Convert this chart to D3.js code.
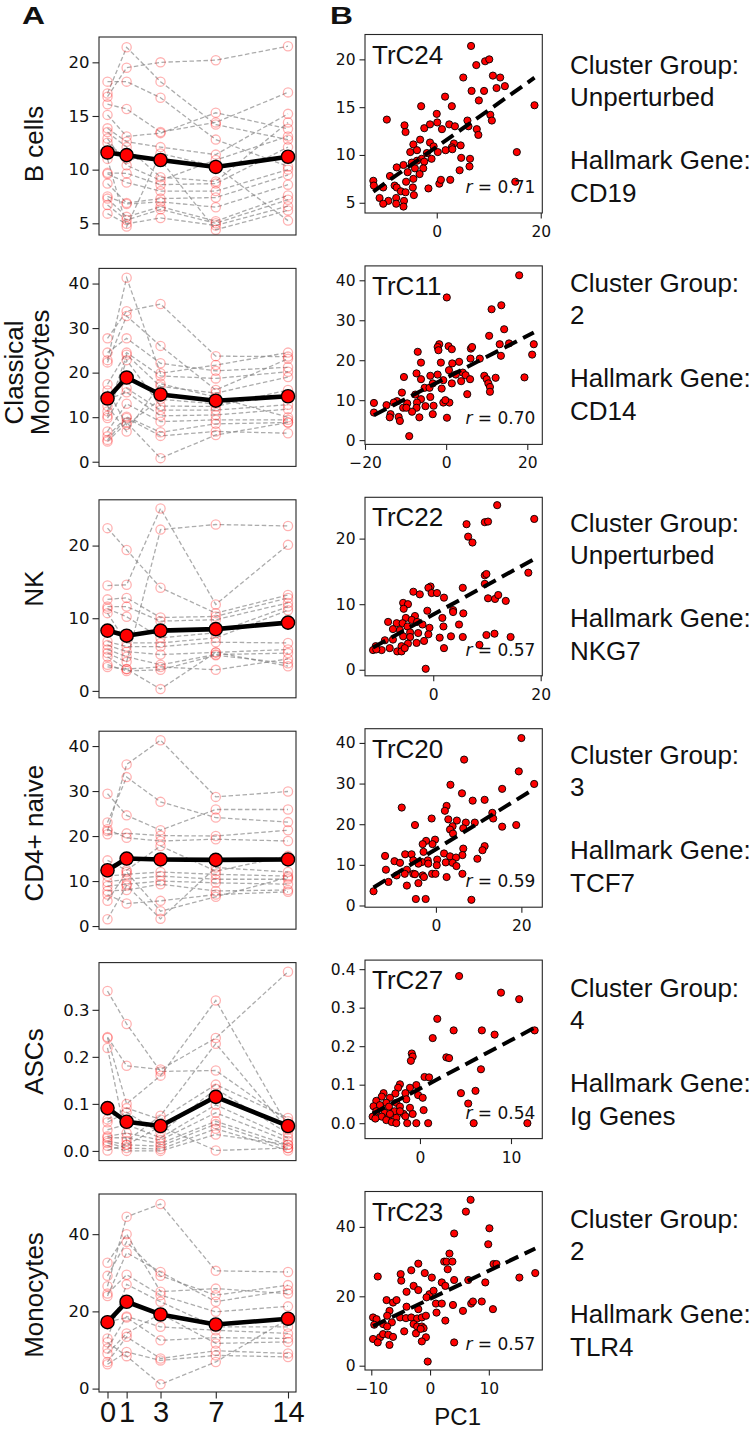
<!DOCTYPE html>
<html><head><meta charset="utf-8">
<script src="https://cdn.jsdelivr.net/npm/d3@7"></script>
<style>
body{margin:0;background:#fff}
svg{display:block}
text{fill:#111}
</style></head>
<body>
<svg id="fig" width="754" height="1432"></svg>
<script>
/* ---------- data ---------- */
const DAYS = [0, 1, 3, 7, 14];
const ROW_LABELS = [["B cells"], ["Classical", "Monocytes"], ["NK"], ["CD4+ naive"], ["ASCs"], ["Monocytes"]];
const CLUSTERS = ["TrC24", "TrC11", "TrC22", "TrC20", "TrC27", "TrC23"];
const R_VALUES = ["0.71", "0.70", "0.57", "0.59", "0.54", "0.57"];
const GROUPS = ["Unperturbed", "2", "Unperturbed", "3", "4", "2"];
const GENES = ["CD19", "CD14", "NKG7", "TCF7", "Ig Genes", "TLR4"];

// y ticks of the left (time course) panels and right (scatter) panels
const LEFT_TICKS = [[5, 10, 15, 20], [0, 10, 20, 30, 40], [0, 10, 20], [0, 10, 20, 30, 40], [0, 0.1, 0.2, 0.3], [0, 20, 40]];
const RIGHT_YTICKS = [[5, 10, 15, 20], [0, 10, 20, 30, 40], [0, 10, 20], [0, 10, 20, 30, 40], [0, 0.1, 0.2, 0.3, 0.4], [0, 20, 40]];
const RIGHT_XTICKS = [[0, 20], [-20, 0, 20], [0, 20], [0, 20], [0, 10], [-10, 0, 10]];
const LEFT_YDOM = [[3.91, 22.36], [-1.05, 43.4], [-0.95, 26.3], [-0.7, 43.3], [-0.0206, 0.4004], [-0.88, 50.4]];
const RIGHT_YDOM = [[3.93, 22.6], [-1.07, 43.6], [-0.92, 26.3], [-0.42, 43.5], [-0.04, 0.4235], [-1.24, 50.2]];
const RIGHT_XDOM = [[-13.8, 20.3], [-20.0, 23.7], [-12.7, 20.3], [-16.6, 24.9], [-6.04, 13.44], [-11.07, 19.1]];

// per-subject percentages at days 0,1,3,7,14
const B_CELLS = [
  [17.1, 21.4, 18.2, 14.2, 12.8], [16.8, 19.5, 20.0, 20.2, 21.5], [18.2, 18.2, 16.7, 12.8, 10.3],
  [16.1, 15.65, 13.5, 14.4, 17.2], [15.1, 13.1, 13.4, 15.3, 13.8], [13.85, 12.6, 12.1, 11.4, 15.2],
  [13.5, 12.1, 9.3, 8.9, 14.4], [12.9, 10.4, 9.0, 10.9, 13.1], [9.7, 9.65, 8.6, 8.7, 12.1],
  [9.6, 8.8, 8.0, 8.0, 10.0], [8.7, 6.9, 7.3, 7.4, 9.5], [7.5, 6.8, 7.0, 6.5, 8.6],
  [7.3, 5.6, 6.55, 5.2, 7.6], [6.7, 5.3, 6.3, 5.0, 7.2], [5.9, 4.95, 5.5, 4.8, 6.6],
  [12.5, 11.0, 10.9, 4.4, 6.2], [11.0, 4.7, 11.5, 10.3, 5.25]
];
const CLASSICAL_MONO = [
  [27.7, 33.8, 35.4, 23.7, 23.6], [22.8, 41.3, 19.85, 21.7, 24.5], [22.3, 32.7, 26.0, 16.1, 23.1],
  [24.5, 27.7, 22.1, 20.4, 21.2], [17.4, 24.5, 19.25, 18.7, 20.2], [11.3, 24.0, 16.9, 15.4, 19.0],
  [10.3, 22.8, 12.5, 12.4, 16.1], [9.8, 16.5, 11.6, 11.6, 12.8], [14.0, 15.6, 10.3, 10.5, 11.8],
  [6.8, 13.0, 9.0, 9.4, 9.4], [5.7, 10.1, 6.6, 8.5, 8.8], [4.9, 9.8, 5.8, 6.8, 6.4],
  [4.55, 8.8, 0.8, 6.0, 8.8], [16.0, 8.3, 14.0, 13.0, 14.6], [12.5, 6.8, 17.5, 14.5, 10.0]
];
const NK = [
  [22.4, 19.4, 14.2, 10.7, 13.2], [14.5, 14.6, 25.1, 11.9, 20.1], [5.2, 4.0, 22.2, 22.9, 22.7],
  [12.6, 12.8, 10.1, 10.25, 12.8], [11.6, 11.6, 9.6, 9.8, 12.1], [11.3, 10.2, 7.3, 8.0, 11.6],
  [10.7, 6.6, 6.6, 7.3, 11.1], [6.8, 6.1, 6.1, 6.7, 6.6], [6.3, 5.4, 5.0, 5.3, 5.7],
  [5.7, 4.7, 3.6, 5.0, 5.2], [4.7, 3.0, 3.3, 2.9, 4.4], [3.6, 2.75, 2.9, 4.9, 3.8],
  [3.3, 3.0, 0.25, 5.3, 3.4]
];
const CD4_NAIVE = [
  [21.1, 35.9, 41.3, 28.7, 29.9], [23.0, 33.1, 27.6, 24.1, 23.1], [29.4, 24.6, 21.3, 25.9, 25.9],
  [20.4, 20.6, 20.1, 20.0, 21.3], [21.5, 19.6, 18.9, 19.3, 18.9], [14.6, 12.4, 17.8, 12.2, 15.6],
  [11.1, 11.5, 12.0, 11.5, 11.1], [9.8, 10.4, 11.1, 10.4, 10.4], [8.9, 9.3, 10.0, 9.6, 9.3],
  [7.8, 8.0, 9.3, 7.8, 8.0], [7.0, 5.0, 5.6, 7.0, 7.6], [5.6, 12.0, 3.3, 6.5, 10.8],
  [1.5, 9.0, 1.6, 13.0, 12.0]
];
const ASCS = [
  [0.34, 0.27, 0.169, 0.171, 0.063], [0.242, 0.181, 0.173, 0.24, 0.381], [0.24, 0.10, 0.16, 0.32, 0.052],
  [0.219, 0.021, 0.075, 0.228, 0.045], [0.067, 0.091, 0.067, 0.141, 0.07], [0.061, 0.082, 0.038, 0.132, 0.037],
  [0.045, 0.056, 0.028, 0.098, 0.028], [0.031, 0.038, 0.023, 0.081, 0.021], [0.028, 0.028, 0.016, 0.063, 0.013],
  [0.021, 0.013, 0.01, 0.057, 0.006], [0.017, 0.006, 0.004, 0.047, 0.001], [0.011, 0.0, 0.0, 0.035, 0.013],
  [0.001, 0.013, 0.052, 0.001, 0.006]
];
const MONOCYTES = [
  [26.5, 44.5, 47.8, 30.5, 30.2], [32.6, 40.0, 25.1, 25.9, 24.6], [29.2, 38.0, 29.2, 24.2, 26.8],
  [24.0, 35.2, 30.2, 22.5, 25.5], [24.6, 29.5, 24.2, 19.9, 21.3], [13.0, 27.0, 22.5, 16.0, 16.0],
  [10.4, 18.7, 16.0, 15.1, 14.3], [17.3, 18.4, 12.5, 13.2, 13.0], [9.1, 14.3, 19.4, 11.7, 12.1],
  [6.9, 13.4, 7.8, 9.8, 9.1], [6.3, 9.5, 7.3, 8.6, 8.2], [12.0, 8.4, 1.1, 6.9, 18.0]
];
const MEANS = [
  [11.6, 11.35, 10.9, 10.25, 11.2], [14.2, 18.9, 15.1, 13.7, 14.7], [8.3, 7.6, 8.3, 8.5, 9.4],
  [12.4, 15.0, 14.8, 14.7, 14.8], [0.091, 0.062, 0.053, 0.115, 0.053], [17.2, 22.5, 19.2, 16.6, 18.1]
];

// scatter: [PC1, cluster abundance]
const TRC24 = [[6.6,21.4],[7.6,19.4],[9.3,19.8],[10.1,20.0],[5.1,18.1],[10.8,18.3],[12.2,18.1],[13.1,17.2],[11.5,17.0],[9.1,16.7],[6.7,16.7],[1.6,16.1],[8.1,15.7],[18.8,15.2],[-3.0,15.1],[2.9,15.1],[10.3,14.2],[10.6,13.6],[0.0,14.3],[-9.6,13.7],[-6.2,13.1],[-6.0,12.4],[-2.4,12.8],[-1.3,13.2],[0.1,13.4],[1.0,12.7],[2.4,13.2],[3.5,13.0],[6.1,13.0],[7.7,12.7],[8.0,12.1],[5.9,13.6],[-3.2,11.6],[-4.5,11.1],[-1.3,11.3],[3.3,11.2],[2.9,10.8],[4.6,11.0],[-0.6,10.9],[-3.8,10.5],[-5.1,10.3],[-1.9,10.2],[0.2,10.3],[1.7,10.5],[3.0,10.6],[15.4,10.3],[4.7,9.7],[6.4,9.6],[-1.0,9.6],[-2.9,9.6],[-3.8,9.4],[-4.8,9.2],[-6.4,8.95],[-2.4,9.3],[-2.6,8.6],[-4.2,8.6],[6.3,8.8],[4.4,8.4],[-3.3,8.0],[-5.6,8.2],[-7.7,8.7],[-9.0,7.8],[-5.9,7.2],[-4.5,7.5],[0.5,7.0],[0.8,7.4],[2.6,7.4],[15.1,7.2],[-12.2,7.3],[-12.1,6.8],[-10.3,6.6],[-8.1,6.8],[-7.7,6.6],[-6.9,6.2],[-4.6,6.6],[-1.6,6.5],[-6.0,6.1],[-4.4,5.8],[-11.0,5.5],[-9.3,5.2],[-10.3,4.9],[-7.8,5.5],[-7.8,4.9],[-6.3,5.2],[-6.4,4.6]];
const TRC11 = [[18.0,41.25],[0.16,35.7],[11.2,32.75],[13.6,33.75],[14.3,27.75],[10.6,26.1],[15.5,24.2],[13.2,24.0],[21.6,24.0],[21.2,21.4],[13.5,21.1],[19.3,15.7],[-1.7,24.0],[-2.1,23.3],[0.6,23.5],[-1.9,22.5],[1.4,22.75],[-7.0,22.1],[6.1,22.9],[6.4,23.3],[6.0,20.4],[8.3,20.4],[3.2,19.6],[1.5,19.2],[-1.3,19.4],[-6.2,19.4],[0.7,17.5],[-2.1,16.4],[-7.3,16.7],[-10.4,15.8],[-3.9,16.1],[-6.2,15.25],[2.4,16.4],[4.1,16.9],[4.8,16.25],[9.4,16.1],[10.0,15.25],[12.2,15.6],[5.9,15.25],[3.7,14.75],[-0.7,15.0],[1.4,14.2],[10.4,14.2],[10.8,13.3],[10.8,12.1],[5.2,11.5],[-5.3,13.1],[-3.3,14.2],[-4.1,13.1],[-10.9,11.9],[-7.6,11.4],[-6.2,10.25],[-3.9,10.8],[-1.1,12.9],[-0.7,9.4],[0.8,9.4],[-0.2,10.0],[-12.1,9.75],[-17.8,9.3],[-14.7,8.75],[-12.9,9.4],[-9.6,9.2],[-7.2,9.4],[-5.1,8.5],[-3.1,8.6],[-10.6,8.1],[-7.3,8.1],[-8.4,7.1],[-6.6,5.7],[-3.3,6.5],[-17.8,6.9],[-13.7,6.5],[-11.7,5.8],[-11.4,4.8],[-13.9,5.7],[0.2,5.6],[-9.1,1.0],[-9.8,8.1]];
const TRC22 = [[11.9,25.1],[6.2,22.2],[9.6,22.5],[10.2,22.6],[18.8,23.0],[6.5,20.3],[7.3,19.4],[17.7,14.8],[9.6,14.4],[9.9,14.6],[9.6,13.1],[5.5,12.5],[-0.5,12.7],[-0.9,12.5],[-0.3,11.7],[-3.7,11.9],[-2.5,11.5],[0.7,11.7],[2.0,11.0],[10.2,10.9],[11.5,10.8],[12.1,11.4],[13.5,10.5],[-5.6,10.2],[-4.7,10.0],[-5.5,9.3],[-1.1,9.0],[3.7,9.1],[3.7,8.8],[-3.4,8.2],[-5.1,7.9],[5.6,8.6],[1.7,7.9],[-8.4,7.3],[-6.8,7.1],[-5.7,7.1],[-4.0,7.6],[-3.0,7.3],[-2.0,6.9],[-0.7,6.4],[1.9,6.6],[4.8,6.9],[-4.8,6.6],[-6.2,6.05],[-4.3,5.7],[-2.8,5.6],[-7.5,6.2],[-5.6,5.1],[-4.3,5.0],[-0.9,5.4],[1.2,4.9],[3.3,5.1],[5.5,5.0],[9.9,5.3],[11.4,5.5],[14.4,5.0],[-7.5,4.6],[-9.0,4.5],[-1.7,4.4],[-3.1,4.1],[-4.7,4.0],[-5.9,3.6],[-6.7,2.8],[-5.9,2.8],[-5.3,3.3],[2.0,3.3],[8.6,3.8],[-10.7,3.6],[-9.6,3.0],[-11.2,3.0],[-8.1,3.3],[-1.4,0.15],[-10.6,3.1]];
const TRC20 = [[20.0,41.2],[6.6,35.9],[19.4,33.0],[23.0,29.9],[3.4,29.7],[6.1,27.6],[15.5,28.7],[8.6,25.8],[11.4,26.0],[13.2,22.8],[2.5,24.5],[2.1,23.3],[-8.0,24.1],[-1.0,21.4],[2.9,21.2],[4.9,20.9],[13.4,21.4],[15.5,19.4],[18.8,19.8],[7.0,20.4],[9.1,20.4],[-4.9,19.8],[3.9,19.5],[3.3,18.7],[4.0,17.7],[6.4,19.0],[-2.3,15.9],[-0.2,16.2],[-3.1,15.1],[-0.8,15.1],[11.4,14.6],[10.9,13.6],[6.4,14.0],[6.2,12.4],[-2.9,13.2],[-11.9,12.2],[-7.2,12.6],[-5.7,12.6],[-1.9,11.1],[1.9,12.8],[3.3,12.1],[4.7,11.8],[9.7,11.5],[-9.7,10.9],[-8.4,10.5],[-5.3,11.1],[-3.3,10.7],[0.3,11.3],[2.3,10.6],[3.9,10.5],[4.8,9.7],[0.2,9.9],[-1.8,10.3],[-4.1,10.3],[-6.8,8.8],[-11.7,8.8],[-9.2,7.4],[-7.3,7.8],[-5.3,7.8],[-3.1,7.4],[-0.9,7.8],[-0.1,7.8],[2.5,7.0],[6.2,7.8],[-2.8,7.0],[-11.1,5.8],[-4.1,5.5],[-6.8,4.9],[-14.6,3.5],[-4.7,1.6],[-2.4,1.6],[8.3,1.4],[-4.9,7.7]];
const TRC27 = [[4.3,0.382],[8.9,0.339],[10.9,0.322],[1.9,0.271],[12.6,0.241],[6.8,0.241],[3.7,0.241],[8.2,0.230],[1.4,0.221],[-0.9,0.181],[-0.8,0.173],[-1.0,0.162],[2.9,0.171],[3.2,0.169],[6.7,0.140],[0.5,0.120],[1.0,0.119],[-2.2,0.101],[-0.4,0.099],[-1.1,0.092],[-2.4,0.092],[4.5,0.078],[6.1,0.084],[-1.6,0.078],[-2.7,0.077],[-4.0,0.078],[-4.2,0.069],[-3.3,0.066],[-0.2,0.073],[0.3,0.066],[-4.8,0.058],[-3.7,0.053],[-2.6,0.053],[-1.5,0.062],[5.3,0.051],[-5.1,0.044],[-4.4,0.047],[-3.4,0.043],[-2.2,0.043],[-1.1,0.040],[-2.8,0.031],[0.4,0.034],[-4.8,0.031],[-3.9,0.027],[-1.8,0.024],[-0.8,0.024],[-5.2,0.017],[-4.2,0.017],[-3.5,0.014],[-2.6,0.014],[-1.6,0.018],[-4.9,0.012],[-3.7,0.008],[-3.1,0.003],[-2.6,0.0],[-1.4,0.0],[-0.4,0.0],[0.9,0.0],[5.9,0.0],[11.8,0.0],[-2.2,0.031],[-3.3,0.024]];
const TRC23 = [[6.9,47.8],[6.1,44.4],[4.1,38.1],[10.1,39.6],[9.9,35.0],[3.3,32.3],[2.4,30.0],[2.8,30.0],[3.8,30.0],[3.0,27.8],[10.8,29.3],[11.3,29.3],[17.9,26.7],[15.2,25.4],[4.1,24.7],[6.5,24.7],[9.4,24.0],[-8.9,25.7],[-5.0,26.4],[-3.2,27.5],[-4.9,24.5],[-2.0,29.4],[-0.9,26.7],[0.3,25.4],[2.0,24.0],[2.6,23.0],[-2.8,23.0],[-2.0,21.8],[-4.0,21.3],[-0.1,20.6],[0.6,21.6],[-0.6,19.7],[-7.4,18.9],[-6.3,18.2],[-5.7,18.9],[1.0,17.9],[2.0,17.9],[3.9,17.5],[7.0,17.9],[7.3,18.5],[8.8,18.5],[10.7,16.3],[5.6,15.8],[-2.0,16.3],[-4.0,17.0],[-6.9,15.8],[-7.3,14.4],[-5.1,13.9],[-4.1,13.7],[-3.2,13.9],[-2.2,13.6],[-1.4,13.9],[-0.7,14.4],[1.1,15.3],[-9.7,13.9],[-9.1,13.4],[-9.5,11.8],[-8.0,12.0],[-6.5,12.5],[-7.3,11.3],[-2.8,12.0],[-2.2,11.3],[-1.4,11.3],[-1.1,10.8],[-4.4,9.9],[-2.4,9.3],[-1.6,10.6],[2.6,13.0],[-0.7,8.2],[-9.7,7.7],[-8.5,8.2],[-8.9,6.7],[-8.0,9.1],[-7.1,8.9],[-6.3,8.3],[-6.9,6.0],[-1.4,7.0],[4.1,6.7],[-0.4,1.2]];

const SUBJECTS = [B_CELLS, CLASSICAL_MONO, NK, CD4_NAIVE, ASCS, MONOCYTES];
const SCATTERS = [TRC24, TRC11, TRC22, TRC20, TRC27, TRC23];

/* ---------- layout ---------- */
const W = 754, H = 1432;
const ROW_STEP = 231.4;
const L = {x0: 99, x1: 296, top: 37, h: 198};
const R = {x0: 365, x1: 542.3, top: 34.5, h: 178.5};
const NOTE_X = 570;
const NOTE_DY = [39.7, 26, 34.3, 35.7, 36.7, 36];
const LABEL_DY = [8, 5, -10, 3, 0, 2];
const SANS = "'Liberation Sans', Arial, sans-serif";
const DJV = "'DejaVu Sans', sans-serif";

const svg = d3.select("#fig");
svg.append("rect").attr("width", W).attr("height", H).attr("fill", "#fff");

// day axis: compressed towards late days
const xDay = d3.scaleSymlog().constant(11).domain([0, 14]).range([107.5, 288]);

function styleAxis(a, font, size){
  a.select(".domain").remove();
  a.selectAll("line").attr("stroke", "#262626").attr("stroke-width", 1.1);
  a.selectAll("text").attr("font-family", font).attr("font-size", size).attr("fill", "#1a1a1a");
}

function leftPanel(i){
  const top = L.top + i * ROW_STEP;
  const y = d3.scaleLinear().domain(LEFT_YDOM[i]).range([top + L.h, top]);
  const g = svg.append("g");
  const line = d3.line().x((d, k) => xDay(DAYS[k])).y(d => y(d));

  // per-subject trajectories
  SUBJECTS[i].forEach(s => {
    g.append("path").attr("d", line(s)).attr("fill", "none")
      .attr("stroke", "#808080").attr("stroke-opacity", 0.65)
      .attr("stroke-width", 1.3).attr("stroke-dasharray", "4.5,2.5");
    g.selectAll(null).data(s).join("circle")
      .attr("cx", (d, k) => xDay(DAYS[k])).attr("cy", d => y(d)).attr("r", 4.6)
      .attr("fill", "none").attr("stroke", "red").attr("stroke-opacity", 0.3).attr("stroke-width", 1.3);
  });

  // mean
  g.append("path").attr("d", line(MEANS[i])).attr("fill", "none")
    .attr("stroke", "#000").attr("stroke-width", 4.6).attr("stroke-linejoin", "round");
  g.selectAll(null).data(MEANS[i]).join("circle")
    .attr("cx", (d, k) => xDay(DAYS[k])).attr("cy", d => y(d)).attr("r", 6.6)
    .attr("fill", "red").attr("stroke", "#000").attr("stroke-width", 1.4);

  g.append("rect").attr("x", L.x0).attr("y", top).attr("width", L.x1 - L.x0).attr("height", L.h)
    .attr("fill", "none").attr("stroke", "#262626").attr("stroke-width", 1.1);

  const ax = d3.axisLeft(y).tickValues(LEFT_TICKS[i]).tickSize(6.5).tickPadding(3)
    .tickFormat(i === 4 ? d3.format(".1f") : d3.format("d"));
  styleAxis(svg.append("g").attr("transform", `translate(${L.x0},0)`).call(ax), DJV, 16.5);

  // row label
  const lines = ROW_LABELS[i];
  const cy = top + L.h / 2 + LABEL_DY[i];
  const t = svg.append("text").attr("transform", `translate(0,${cy}) rotate(-90)`)
    .attr("text-anchor", "middle").attr("font-family", SANS).attr("font-size", 26);
  if(lines.length === 1){
    t.append("tspan").attr("x", 0).attr("y", 43).text(lines[0]);
  } else {
    t.append("tspan").attr("x", 0).attr("y", 23).text(lines[0]);
    t.append("tspan").attr("x", 0).attr("y", 48.5).text(lines[1]);
  }

  // day ticks under the last panel only
  if(i === SUBJECTS.length - 1){
    const bx = d3.axisBottom(xDay).tickValues(DAYS).tickSize(6.5).tickPadding(2).tickFormat(d3.format("d"));
    const bg = svg.append("g").attr("transform", `translate(0,${top + L.h})`).call(bx);
    styleAxis(bg, SANS, 29);
    bg.selectAll("text").attr("dy", null).attr("y", 29.5).attr("fill", "#111");
  }
}

function rightPanel(i){
  const top = R.top + i * ROW_STEP;
  const bottom = top + R.h;
  const x = d3.scaleLinear().domain(RIGHT_XDOM[i]).range([R.x0, R.x1]);
  const y = d3.scaleLinear().domain(RIGHT_YDOM[i]).range([bottom, top]);
  const pts = SCATTERS[i];
  const g = svg.append("g");

  g.selectAll(null).data(pts).join("circle")
    .attr("cx", d => x(d[0])).attr("cy", d => y(d[1])).attr("r", 3.6)
    .attr("fill", "red").attr("stroke", "#000").attr("stroke-width", 0.9);

  // least-squares fit over the observed PC1 range
  const mx = d3.mean(pts, d => d[0]), my = d3.mean(pts, d => d[1]);
  const slope = d3.sum(pts, d => (d[0] - mx) * (d[1] - my)) / d3.sum(pts, d => (d[0] - mx) ** 2);
  const ext = d3.extent(pts, d => d[0]);
  g.append("path").attr("d", d3.line()(ext.map(v => [x(v), y(my + slope * (v - mx))])))
    .attr("stroke", "#000").attr("stroke-width", 4).attr("stroke-dasharray", "14,7").attr("fill", "none");

  g.append("rect").attr("x", R.x0).attr("y", top).attr("width", R.x1 - R.x0).attr("height", R.h)
    .attr("fill", "none").attr("stroke", "#262626").attr("stroke-width", 1.1);

  const ay = d3.axisLeft(y).tickValues(RIGHT_YTICKS[i]).tickSize(5.5).tickPadding(4)
    .tickFormat(i === 4 ? d3.format(".1f") : d3.format("d"));
  styleAxis(svg.append("g").attr("transform", `translate(${R.x0},0)`).call(ay), DJV, 15.5);
  const ax = d3.axisBottom(x).tickValues(RIGHT_XTICKS[i]).tickSize(5.5).tickPadding(4)
    .tickFormat(v => v < 0 ? "\u2212" + Math.abs(v) : String(v));
  const axg = svg.append("g").attr("transform", `translate(0,${bottom})`).call(ax);
  styleAxis(axg, DJV, 15.5);
  axg.selectAll("text").attr("dy", null).attr("y", 24);

  svg.append("text").attr("x", R.x0 + 7).attr("y", top + 29)
    .attr("font-family", SANS).attr("font-size", 26).text(CLUSTERS[i]);

  const rt = svg.append("text").attr("x", R.x1 - 7).attr("y", bottom - 20).attr("text-anchor", "end")
    .attr("font-family", DJV).attr("font-size", 17).attr("fill", "#1a1a1a");
  rt.append("tspan").attr("font-style", "italic").text("r");
  rt.append("tspan").text(" = " + R_VALUES[i]);

  const ny = top + NOTE_DY[i];
  [["Cluster Group:", 0], [GROUPS[i], 32], ["Hallmark Gene:", 95], [GENES[i], 128]].forEach(([s, dy]) =>
    svg.append("text").attr("x", NOTE_X).attr("y", ny + dy)
      .attr("font-family", SANS).attr("font-size", 26).text(s));

  if(i === SCATTERS.length - 1){
    svg.append("text").attr("x", (R.x0 + R.x1) / 2 + 4).attr("y", 1425).attr("text-anchor", "middle")
      .attr("font-family", SANS).attr("font-size", 24).text("PC1");
  }
}

d3.range(6).forEach(i => { leftPanel(i); rightPanel(i); });

// panel letters are drawn wide and heavy in the figure
[["A", 22], ["B", 330]].forEach(([s, px]) =>
  svg.append("text").attr("transform", `translate(${px},23.5) scale(1.3,1)`)
    .attr("font-family", SANS).attr("font-weight", "bold").attr("font-size", 24.5).text(s));
</script>
</body></html>
